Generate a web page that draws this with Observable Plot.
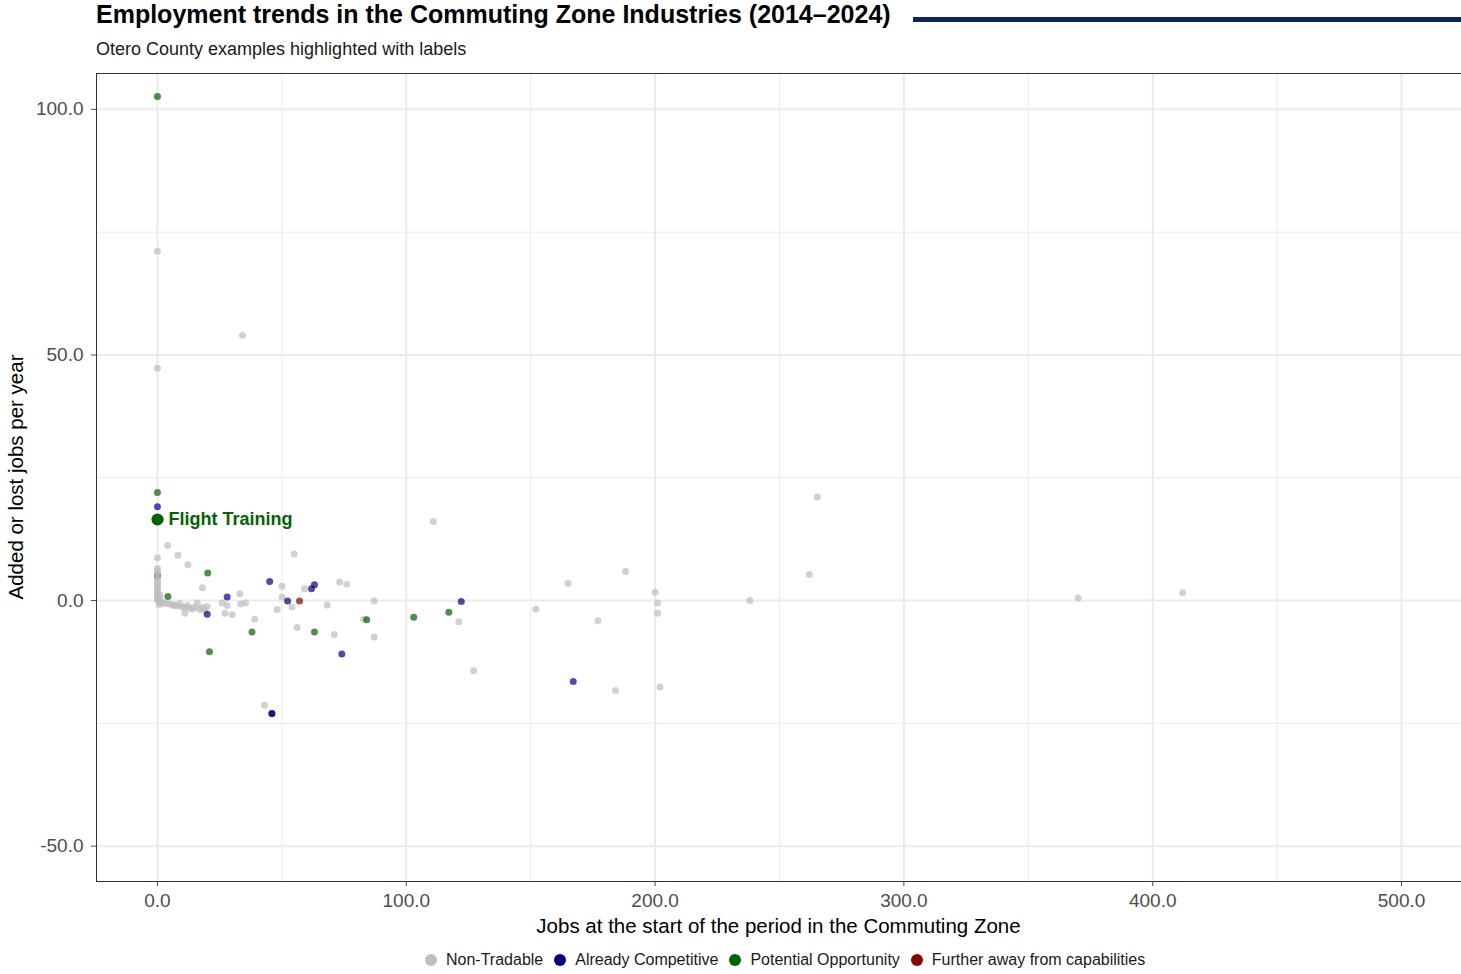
<!DOCTYPE html>
<html><head><meta charset="utf-8">
<script src="https://cdn.jsdelivr.net/npm/d3@7"></script>
<script src="https://cdn.jsdelivr.net/npm/@observablehq/plot@0.6"></script>
<style>
body{margin:0;background:#fff;font-family:"Liberation Sans",Arial,Helvetica,sans-serif;width:1461px;height:974px;position:relative;overflow:hidden}
#title{position:absolute;left:96px;top:0px;font-size:25px;font-weight:bold;color:#000;white-space:nowrap}
#rule{position:absolute;left:913px;top:17px;width:548px;height:5px;background:#0b2265}
#subtitle{position:absolute;left:96px;top:39px;font-size:18px;color:#1a1a1a;white-space:nowrap}
#chart{position:absolute;left:0;top:63px}
#xlab{position:absolute;left:96px;width:1365px;top:914px;text-align:center;font-size:20.5px;color:#000}
#ylab{position:absolute;left:16px;top:477px;transform:translate(-50%,-50%) rotate(-90deg);font-size:20.5px;color:#000;white-space:nowrap}
#legend{position:absolute;left:425px;top:951px;display:flex;align-items:center;font-size:16px;color:#1a1a1a;white-space:nowrap}
#legend .sw{width:12px;height:12px;border-radius:50%;margin-right:9px}
#legend .it{display:flex;align-items:center;margin-right:11px}
</style></head>
<body>
<div id="title">Employment trends in the Commuting Zone Industries (2014–2024)</div>
<div id="rule"></div>
<div id="subtitle">Otero County examples highlighted with labels</div>
<div id="chart"></div>
<div id="xlab">Jobs at the start of the period in the Commuting Zone</div>
<div id="ylab">Added or lost jobs per year</div>
<div id="legend"></div>
<script>
const groups = ["Non-Tradable","Already Competitive","Potential Opportunity","Further away from capabilities"];
const groupColors = ["#bebebe","#00008b","#006400","#8b0000"];

const nonTradable = [
 [0,71.1],[0,47.3],[0,8.7],[0,6.5],[0,6.0],[0,5.5],[0,4.5],[0,4.0],[0,3.5],[0,3.0],[0,2.5],[0,2.0],[0,1.5],[0,1.0],[0,0.5],[0,0.2],
 [0.5,-0.2],[0.8,-0.8],[1,0.3],[1,1.2],[1.5,16.5],
 [1.5,-0.3],[2.5,-0.5],[3.5,-0.6],[5,-0.7],[6,-0.9],[7,-1.0],[8,-1.1],[9,-0.6],[10,-1.3],[11,-1.4],[12,-1.0],[13,-1.5],[14,-1.7],[15,-1.3],[16,-0.5],[17,-1.8],[18,-1.4],[19,-2.0],[20,-1.2],
 [4.1,11.2],[8.2,9.2],[12.2,7.3],[18.1,2.6],[11,-2.6],[26,-0.5],[28,-1.0],[27.1,-2.6],[30,-2.9],[33.1,1.4],[33.4,-0.7],[35.4,-0.5],[39.1,-3.8],[34.2,54.0],[43,-21.3],
 [50.1,2.9],[50.1,0.7],[48.1,-1.8],[54.1,-1.3],[54.9,9.5],[56.1,-5.5],[59.1,2.4],[68.2,-0.9],[71.1,-6.9],[73.2,3.8],[76.1,3.3],[82.9,-3.8],[87.1,-0.1],[87.1,-7.4],
 [110.9,16.1],[121.1,-4.3],[127.1,-14.3],[152.1,-1.7],[165,3.5],[177,-4.1],[184.1,-18.3],[188.1,5.9],[200,1.7],[201,-0.5],[201,-2.6],[202,-17.6],[238.1,0],[262,5.3],[265.2,21.1],[370,0.5],[412,1.6]
];
const alreadyCompetitive = [
 [0,19.1],[20,-2.8],[28,0.7],[45.1,3.9],[52.3,-0.1],[61.9,2.4],[63.1,3.2],[74.1,-10.9],[122.1,-0.2],[167.1,-16.5],[46,-23.0],[46,-23.0]
];
const potentialOpportunity = [
 [0,102.6],[0,22.0],[4.2,0.8],[20.2,5.6],[20.9,-10.4],[38,-6.4],[63.1,-6.4],[84.1,-3.9],[103,-3.4],[117.1,-2.4]
];
const furtherAway = [
 [0,5.1],[57.1,-0.1]
];
const highlightNames = ["Flight Training"];
const highlightX = [0];
const highlightY = [16.5];

const xMajor = [0,100,200,300,400,500];
const xMinor = [50,150,250,350,450];
const yMajor = [-50,0,50,100];
const yMinor = [-25,25,75];

// drawing order: further-away first (partly hidden in the dense column), then the rest
const drawOrder = [3, 0, 1, 2];
const series = [nonTradable, alreadyCompetitive, potentialOpportunity, furtherAway];
const points = drawOrder.flatMap(i=>series[i].map(([x,y])=>({x,y,group:groups[i]})));
const highlight = highlightNames.map((name,i)=>({name,x:highlightX[i],y:highlightY[i]}));

const fmt = d => d.toFixed(1);
const chart = Plot.plot({
  width:1461, height:882, marginLeft:96, marginRight:0, marginTop:10, marginBottom:64,
  style:{fontFamily:"Liberation Sans, Arial, sans-serif", background:"#fff", overflow:"visible"},
  x:{domain:[-24.5,524.1]},
  y:{domain:[-57.2,107.3]},
  color:{domain:groups, range:groupColors},
  marks:[
    Plot.gridX(xMinor,{stroke:"#ebebeb", strokeOpacity:1, strokeWidth:1}),
    Plot.gridY(yMinor,{stroke:"#ebebeb", strokeOpacity:1, strokeWidth:1}),
    Plot.gridX(xMajor,{stroke:"#ebebeb", strokeOpacity:1, strokeWidth:2}),
    Plot.gridY(yMajor,{stroke:"#ebebeb", strokeOpacity:1, strokeWidth:2}),
    Plot.axisX(xMajor,{tickFormat:fmt, tickSize:5, tickPadding:7, fontSize:19, color:"#4d4d4d", label:null}),
    Plot.axisY(yMajor,{tickFormat:fmt, tickSize:5, tickPadding:8, fontSize:19, color:"#4d4d4d", label:null}),
    Plot.dot(points,{x:"x", y:"y", fill:"group", r:3.5, fillOpacity:0.7}),
    Plot.dot(highlight,{x:"x", y:"y", fill:"#006400", r:6}),
    Plot.text(highlight,{x:"x", y:"y", text:"name", dx:11, textAnchor:"start", fill:"#006400", fontWeight:"bold", fontSize:18}),
    Plot.frame({stroke:"#333", strokeWidth:1})
  ]
});
document.getElementById("chart").appendChild(chart);

const legend = document.getElementById("legend");
groups.forEach((g,i)=>{
  const it = document.createElement("div"); it.className="it";
  const sw = document.createElement("div"); sw.className="sw"; sw.style.background=groupColors[i];
  const t = document.createElement("span"); t.textContent=g;
  it.appendChild(sw); it.appendChild(t); legend.appendChild(it);
});
</script>
</body></html>
